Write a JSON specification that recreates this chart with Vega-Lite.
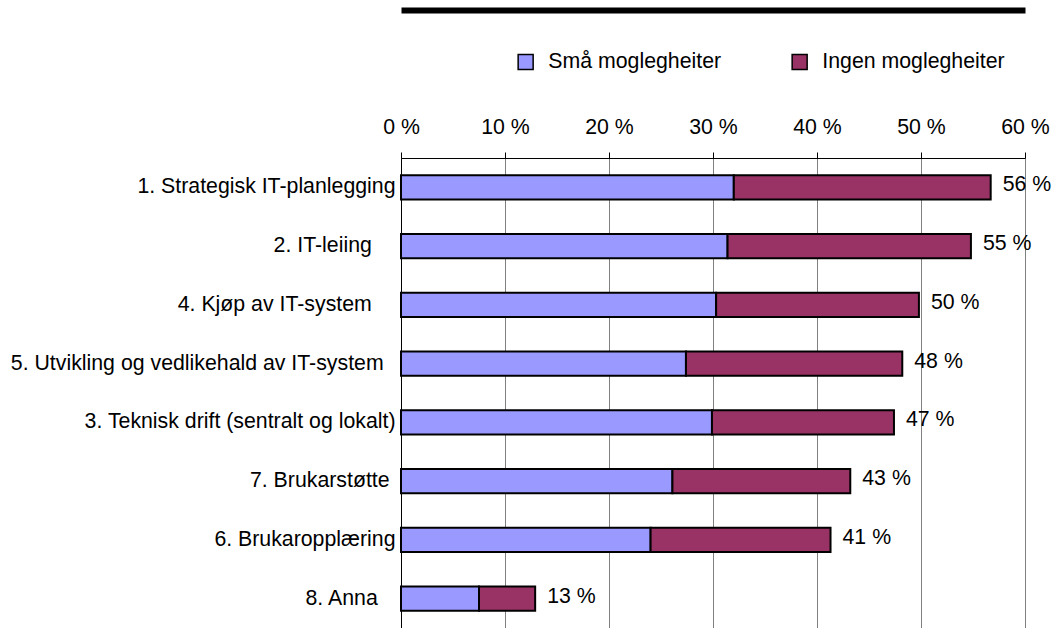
{
  "$schema": "https://vega.github.io/schema/vega-lite/v6.json",
  "width": 624,
  "height": 470,
  "autosize": {"type": "none"},
  "padding": {"left": 401, "top": 158, "right": 28, "bottom": 0},
  "background": "white",
  "config": {"font": "Liberation Sans", "view": {"stroke": null}},
  "datasets": {
    "bars": [
      {"kategori": "1. Strategisk IT-planlegging", "serie": "Små moglegheiter", "verdi": 32.0},
      {"kategori": "1. Strategisk IT-planlegging", "serie": "Ingen moglegheiter", "verdi": 24.7},
      {"kategori": "2. IT-leiing\u00a0\u00a0\u00a0\u00a0\u200b", "serie": "Små moglegheiter", "verdi": 31.4},
      {"kategori": "2. IT-leiing\u00a0\u00a0\u00a0\u00a0\u200b", "serie": "Ingen moglegheiter", "verdi": 23.4},
      {"kategori": "4. Kjøp av IT-system\u00a0\u00a0\u00a0\u00a0\u200b", "serie": "Små moglegheiter", "verdi": 30.3},
      {"kategori": "4. Kjøp av IT-system\u00a0\u00a0\u00a0\u00a0\u200b", "serie": "Ingen moglegheiter", "verdi": 19.5},
      {"kategori": "5. Utvikling og vedlikehald av IT-system\u00a0\u00a0\u200b", "serie": "Små moglegheiter", "verdi": 27.4},
      {"kategori": "5. Utvikling og vedlikehald av IT-system\u00a0\u00a0\u200b", "serie": "Ingen moglegheiter", "verdi": 20.8},
      {"kategori": "3. Teknisk drift (sentralt og lokalt)", "serie": "Små moglegheiter", "verdi": 29.9},
      {"kategori": "3. Teknisk drift (sentralt og lokalt)", "serie": "Ingen moglegheiter", "verdi": 17.5},
      {"kategori": "7. Brukarstøtte\u00a0\u200b", "serie": "Små moglegheiter", "verdi": 26.1},
      {"kategori": "7. Brukarstøtte\u00a0\u200b", "serie": "Ingen moglegheiter", "verdi": 17.1},
      {"kategori": "6. Brukaropplæring", "serie": "Små moglegheiter", "verdi": 24.0},
      {"kategori": "6. Brukaropplæring", "serie": "Ingen moglegheiter", "verdi": 17.3},
      {"kategori": "8. Anna\u00a0\u00a0\u00a0\u200b", "serie": "Små moglegheiter", "verdi": 7.5},
      {"kategori": "8. Anna\u00a0\u00a0\u00a0\u200b", "serie": "Ingen moglegheiter", "verdi": 5.4}
    ],
    "totals": [
      {"kategori": "1. Strategisk IT-planlegging", "total": 56.7, "etikett": "56 %"},
      {"kategori": "2. IT-leiing\u00a0\u00a0\u00a0\u00a0\u200b", "total": 54.8, "etikett": "55 %"},
      {"kategori": "4. Kjøp av IT-system\u00a0\u00a0\u00a0\u00a0\u200b", "total": 49.8, "etikett": "50 %"},
      {"kategori": "5. Utvikling og vedlikehald av IT-system\u00a0\u00a0\u200b", "total": 48.2, "etikett": "48 %"},
      {"kategori": "3. Teknisk drift (sentralt og lokalt)", "total": 47.4, "etikett": "47 %"},
      {"kategori": "7. Brukarstøtte\u00a0\u200b", "total": 43.2, "etikett": "43 %"},
      {"kategori": "6. Brukaropplæring", "total": 41.3, "etikett": "41 %"},
      {"kategori": "8. Anna\u00a0\u00a0\u00a0\u200b", "total": 12.9, "etikett": "13 %"}
    ]
  },
  "layer": [
    {
      "data": {"name": "bars"},
      "mark": {"type": "bar", "stroke": "black", "strokeWidth": 2},
      "encoding": {
        "y": {
          "field": "kategori",
          "type": "nominal",
          "sort": null,
          "scale": {"paddingInner": 0.586, "paddingOuter": 0.293},
          "axis": {
            "title": null,
            "labelFontSize": 21.3,
            "labelColor": "black",
            "labelPadding": 6,
            "ticks": false,
            "domainColor": "black",
            "domainWidth": 1,
            "labelLimit": 450
          }
        },
        "x": {
          "field": "verdi",
          "type": "quantitative",
          "stack": "zero",
          "scale": {"domain": [0, 60], "nice": false},
          "axis": {
            "orient": "top",
            "values": [0, 10, 20, 30, 40, 50, 60],
            "labelExpr": "datum.value + ' %'",
            "title": null,
            "grid": true,
            "gridColor": "#808080",
            "gridOpacity": 1,
            "domainColor": "black",
            "tickColor": "black",
            "tickSize": 6,
            "labelFontSize": 21.3,
            "labelPadding": 15,
            "labelColor": "black",
            "labelFlush": false
          }
        },
        "color": {
          "field": "serie",
          "type": "nominal",
          "scale": {"domain": ["Små moglegheiter", "Ingen moglegheiter"], "range": ["#9999FF", "#993366"]},
          "legend": {
            "orient": "none",
            "legendX": 114,
            "legendY": -107,
            "direction": "horizontal",
            "title": null,
            "symbolType": "square",
            "symbolSize": 225,
            "symbolStrokeColor": "black",
            "symbolStrokeWidth": 1.5,
            "symbolOpacity": 1,
            "labelFontSize": 21.3,
            "labelColor": "black",
            "labelOffset": 12,
            "labelLimit": 300,
            "columnPadding": 67,
            "padding": 0
          }
        },
        "order": {"field": "serie", "sort": "descending"}
      }
    },
    {
      "data": {"name": "totals"},
      "mark": {"type": "text", "align": "left", "baseline": "middle", "dx": 12, "dy": -2, "fontSize": 21.3, "color": "black"},
      "encoding": {
        "y": {"field": "kategori", "type": "nominal", "sort": null},
        "x": {
          "field": "total",
          "type": "quantitative",
          "axis": {
            "orient": "top",
            "offset": 148,
            "domainWidth": 6,
            "domainColor": "black",
            "labels": false,
            "ticks": false,
            "grid": false,
            "title": null
          }
        },
        "text": {"field": "etikett"}
      }
    }
  ],
  "resolve": {"axis": {"x": "independent"}}
}
